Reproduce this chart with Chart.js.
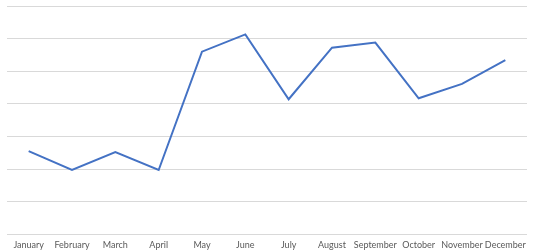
<!DOCTYPE html>
<html>
<head>
<meta charset="utf-8">
<script src="https://cdn.jsdelivr.net/npm/chart.js@4"></script>
<style>
  html, body { margin: 0; padding: 0; background: #fff; }
  #wrap { width: 534px; height: 252px; }
</style>
</head>
<body>
<div id="wrap"><canvas id="salesChart"></canvas></div>
<script>
const months = ["January", "February", "March", "April", "May", "June",
  "July", "August", "September", "October", "November", "December"];
const values = [2.55, 1.97, 2.52, 1.97, 5.6, 6.13, 4.14, 5.72, 5.88, 4.17, 4.61, 5.34];
const yTicks = [0, 1, 2, 3, 4, 5, 6, 7];

document.addEventListener("DOMContentLoaded", function () {
  const ctx = document.getElementById("salesChart").getContext("2d");

  new Chart(ctx, {
    type: "line",
    data: {
      labels: months,
      datasets: [
        {
          data: values,
          borderColor: "#4472C4",
          borderWidth: 2,
          pointRadius: 0,
          tension: 0,
          fill: false,
        },
      ],
    },
    options: {
      responsive: true,
      maintainAspectRatio: false,
      animation: false,
      layout: { padding: { left: 7, right: 7, top: 6, bottom: -3 } },
      plugins: {
        legend: { display: false },
        tooltip: { enabled: false },
      },
      scales: {
        x: {
          offset: true,
          grid: { display: false, drawTicks: false },
          border: { display: false },
          ticks: {
            color: "#595959",
            font: { family: "Lato", size: 9 },
            padding: 5,
            maxRotation: 0,
            autoSkip: false,
          },
        },
        y: {
          min: 0,
          max: 7,
          afterBuildTicks: function (axis) {
            axis.ticks = yTicks.map(function (v) { return { value: v }; });
          },
          grid: { color: "#d9d9d9", lineWidth: 1, drawTicks: false },
          border: { display: false },
          ticks: { display: false },
        },
      },
    },
  });
});
</script>
</body>
</html>
